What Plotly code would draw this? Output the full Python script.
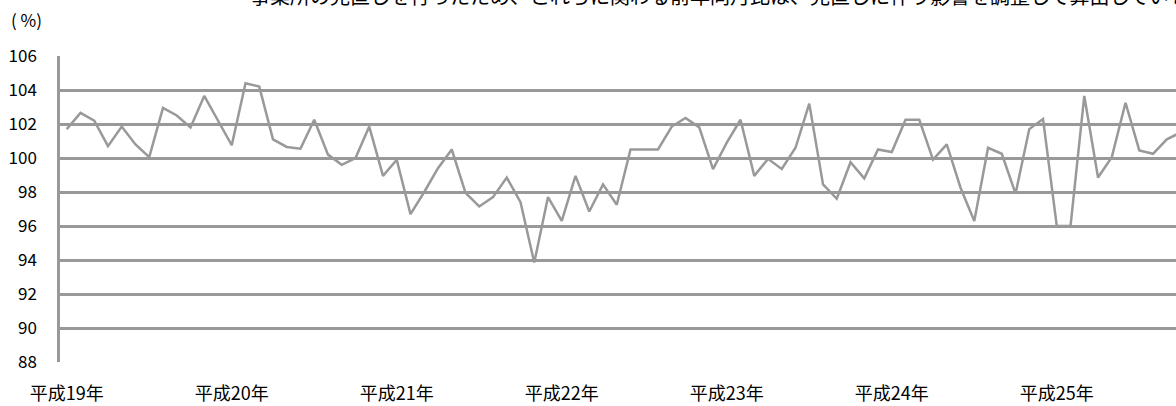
import plotly.graph_objects as go

# Year-on-year ratio (%) by month, 平成19年1月 onward
years = ["平成19年", "平成20年", "平成21年", "平成22年", "平成23年", "平成24年", "平成25年"]
months = [f"{m}月" for m in range(1, 13)]

values_h19 = [101.7, 102.65, 102.2, 100.7, 101.85, 100.8, 100.05, 102.95, 102.5, 101.8, 103.65, 102.2]
values_h20 = [100.75, 104.4, 104.2, 101.1, 100.65, 100.55, 102.25, 100.2, 99.6, 100.0, 101.85, 98.95]
values_h21 = [99.9, 96.7, 98.0, 99.4, 100.5, 97.95, 97.15, 97.7, 98.85, 97.4, 93.85, 97.7]
values_h22 = [96.3, 98.95, 96.85, 98.45, 97.25, 100.5, 100.5, 100.5, 101.85, 102.35, 101.8, 99.35]
values_h23 = [100.9, 102.25, 98.95, 99.95, 99.35, 100.6, 103.2, 98.45, 97.6, 99.75, 98.8, 100.5]
values_h24 = [100.35, 102.25, 102.25, 99.9, 100.8, 98.25, 96.3, 100.6, 100.25, 97.9, 101.7, 102.3]
values_h25 = [96.0, 96.0, 103.65, 98.85, 100.05, 103.25, 100.45, 100.25, 101.1, 101.5]

series = [values_h19, values_h20, values_h21, values_h22, values_h23, values_h24, values_h25]

categories = []
values = []
for year, vals in zip(years, series):
    for month, v in zip(months, vals):
        categories.append(year + month)
        values.append(v)

y_ticks = list(range(88, 107, 2))
title_text = "事業所の見直しを行ったため、これらに関わる前年同月比は、見直しに伴う影響を調整して算出している"

GRAY = "#999999"
FONT = "Noto Sans CJK JP"

fig = go.Figure(
    go.Scatter(
        x=categories,
        y=values,
        mode="lines",
        line=dict(color=GRAY, width=2.5),
        hoverinfo="x+y",
    )
)

fig.update_layout(
    width=1176,
    height=406,
    margin=dict(l=60, r=0, t=56, b=44),
    paper_bgcolor="white",
    plot_bgcolor="white",
    showlegend=False,
    font=dict(family=FONT, color="#000000"),
    xaxis=dict(
        type="category",
        range=[-0.49, 80.67],
        tickmode="array",
        tickvals=[y + "1月" for y in years],
        ticktext=years,
        showgrid=False,
        zeroline=False,
        showline=False,
        ticks="",
        ticklabelstandoff=19,
        tickfont=dict(size=18, family=FONT, color="#000000"),
    ),
    yaxis=dict(
        range=[88, 106],
        tickmode="array",
        tickvals=y_ticks,
        ticktext=[str(t) for t in y_ticks],
        showgrid=True,
        gridcolor=GRAY,
        gridwidth=2.5,
        zeroline=False,
        showline=True,
        linecolor=GRAY,
        linewidth=2.5,
        ticks="",
        ticklabelstandoff=17,
        tickfont=dict(size=17, family=FONT, color="#000000"),
    ),
    annotations=[
        dict(
            text="( %)",
            xref="paper", yref="paper",
            x=(26 - 60) / 1116, y=1, xanchor="center", yanchor="middle",
            yshift=37,
            showarrow=False,
            font=dict(size=17, family=FONT, color="#000000"),
        ),
        dict(
            text=title_text,
            xref="paper", yref="paper",
            x=(248 - 60) / 1116, y=1, xanchor="left", yanchor="bottom",
            yshift=44,
            showarrow=False,
            font=dict(size=20, family=FONT, color="#000000"),
        ),
    ],
)

fig.write_html("out.html")
